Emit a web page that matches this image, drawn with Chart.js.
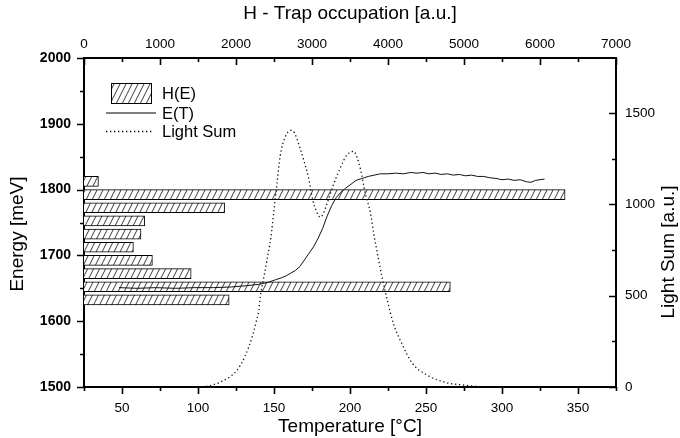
<!DOCTYPE html>
<html>
<head>
<meta charset="utf-8">
<script src="https://cdn.jsdelivr.net/npm/chart.js@4.4.0/dist/chart.umd.min.js"></script>
<style>
  html, body { margin: 0; padding: 0; background: #fff; }
</style>
</head>
<body>
<canvas id="chart" width="680" height="438"></canvas>
<script>
// H(E): trap occupation per energy level
const energyLevels = [1820, 1800, 1780, 1760, 1740, 1720, 1700, 1680, 1660, 1640];
const trapOccupation = [190, 6330, 1850, 800, 750, 650, 900, 1410, 4820, 1910];

// E(T): energy vs temperature
const etTemp = [48, 60, 72, 85, 98, 110, 122, 132, 140, 146, 151, 155, 158, 161, 164, 167, 170, 173, 176, 179,
                182, 185, 188, 191, 194, 197, 200, 204, 208, 212, 216, 220, 225, 230, 235, 240, 244, 248, 252, 256,
                260, 264, 268, 272, 276, 280, 284, 288, 292, 296, 300, 304, 308, 312, 316, 319, 322, 325, 328];
const etEnergy = [1651, 1650, 1651, 1650, 1651, 1651, 1652, 1654, 1656, 1659, 1663, 1666, 1669, 1673, 1677, 1683, 1693, 1703, 1713, 1726,
                  1741, 1760, 1776, 1788, 1796, 1802, 1807, 1814, 1817, 1820, 1822, 1824, 1824, 1825, 1824, 1826, 1825, 1826, 1824, 1825,
                  1823, 1824, 1822, 1823, 1821, 1822, 1820, 1820, 1818, 1817, 1815, 1816, 1814, 1815, 1812, 1811, 1814, 1815, 1816];

// Light sum vs temperature
const lsTemp = [100, 105, 110, 115, 121, 125, 128, 131, 133.5, 136, 138, 140, 141, 143, 145, 148, 150, 152, 154, 157.5,
                161, 163.5, 166, 169.5, 173, 175.5, 178, 180.5, 183, 185, 189.5, 194, 198, 202.5, 204.5, 207, 210, 213.5,
                215.5, 218, 221, 224.5, 228.5, 234, 241, 250.5, 263.5, 274.5, 285.5, 295, 305];
const lightSum = [0, 3, 12, 28, 56, 85, 120, 170, 221, 285, 349, 420, 495, 585, 677, 823, 969, 1115, 1261, 1371,
                  1404, 1390, 1335, 1243, 1134, 1024, 960, 929, 960, 1006, 1115, 1206, 1270, 1289, 1260, 1188, 1061, 951,
                  845, 732, 604, 476, 349, 239, 130, 66, 24, 11, 2, 0, 0];

// labelled tick values on each axis
const tempLabels = [50, 100, 150, 200, 250, 300, 350];
const occLabels = [0, 1000, 2000, 3000, 4000, 5000, 6000, 7000];
const energyLabels = [1500, 1600, 1700, 1800, 1900, 2000];
const sumLabels = [0, 500, 1000, 1500];
const sumTicks = [0, 250, 500, 750, 1000, 1250, 1500];

const FONT = '"Liberation Sans", Arial, Helvetica, sans-serif';

function makeHatch() {
    const c = document.createElement('canvas');
    c.width = 6;
    c.height = 12;
    const g = c.getContext('2d');
    g.fillStyle = '#fff';
    g.fillRect(0, 0, 6, 12);
    g.strokeStyle = '#222';
    g.lineWidth = 0.9;
    g.beginPath();
    for (const dx of [-6, 0, 6]) {
        g.moveTo(dx, 12);
        g.lineTo(dx + 6, 0);
    }
    g.stroke();
    return g.createPattern(c, 'repeat');
}

const hatch = makeHatch();

const labelIf = list => v => list.includes(Number(v)) ? String(v) : '';

function sideTitle(ctx, text, x, y) {
    ctx.save();
    ctx.fillStyle = '#000';
    ctx.font = '19px ' + FONT;
    ctx.textAlign = 'center';
    ctx.textBaseline = 'middle';
    ctx.translate(x, y);
    ctx.rotate(-Math.PI / 2);
    ctx.fillText(text, 0, 0);
    ctx.restore();
}

// inward / outward tick marks, long for labelled values, short otherwise
const tickMarks = {
    id: 'tickMarks',
    afterDraw(chart) {
        const ctx = chart.ctx;
        const a = chart.chartArea;
        ctx.save();
        ctx.strokeStyle = '#000';
        ctx.lineWidth = 1.6;
        ctx.beginPath();
        const each = (id, fn) => {
            const s = chart.scales[id];
            s.ticks.forEach(t => fn(Math.round(s.getPixelForValue(t.value)) + 0.5, t.label !== '' ? 7 : 4));
        };
        each('x', (p, len) => { ctx.moveTo(p, a.bottom); ctx.lineTo(p, a.bottom + len); });
        each('x2', (p, len) => { ctx.moveTo(p, a.top); ctx.lineTo(p, a.top + len); });
        each('y', (p, len) => { ctx.moveTo(a.left - len, p); ctx.lineTo(a.left, p); });
        each('y2', (p, len) => { ctx.moveTo(a.right - len, p); ctx.lineTo(a.right, p); });
        ctx.stroke();
        ctx.restore();

        // both vertical titles read bottom to top
        sideTitle(ctx, 'Energy [meV]', 18, 234);
        sideTitle(ctx, 'Light Sum [a.u.]', 669, 252);
    }
};

// legend box in the upper left of the plot
const boxLegend = {
    id: 'boxLegend',
    afterDraw(chart) {
        const ctx = chart.ctx;
        const ds = chart.data.datasets;
        ctx.save();
        ctx.fillStyle = hatch;
        ctx.fillRect(111, 83, 40, 20);
        ctx.strokeStyle = '#000';
        ctx.lineWidth = 1;
        ctx.strokeRect(111.5, 83.5, 40, 20);

        ctx.lineWidth = ds[0].borderWidth;
        ctx.beginPath();
        ctx.moveTo(106, 113);
        ctx.lineTo(156, 113);
        ctx.stroke();

        ctx.lineWidth = ds[1].borderWidth;
        ctx.setLineDash(ds[1].borderDash);
        ctx.beginPath();
        ctx.moveTo(106, 131.5);
        ctx.lineTo(154, 131.5);
        ctx.stroke();
        ctx.setLineDash([]);

        ctx.fillStyle = '#000';
        ctx.font = '16.5px ' + FONT;
        ctx.textBaseline = 'middle';
        ctx.fillText(ds[2].label, 162, 94);
        ctx.fillText(ds[0].label, 162, 114);
        ctx.fillText(ds[1].label, 162, 132);
        ctx.restore();
    }
};

const ctx = document.getElementById('chart').getContext('2d');
new Chart(ctx, {
    type: 'line',
    data: {
        datasets: [{
            label: 'E(T)',
            data: etTemp.map((t, i) => ({ x: t, y: etEnergy[i] })),
            xAxisID: 'x',
            yAxisID: 'y',
            borderColor: '#111',
            borderWidth: 1,
            pointRadius: 0,
            tension: 0
        }, {
            label: 'Light Sum',
            data: lsTemp.map((t, i) => ({ x: t, y: lightSum[i] })),
            xAxisID: 'x',
            yAxisID: 'y2',
            borderColor: '#111',
            borderWidth: 1.3,
            borderDash: [1.3, 2.7],
            pointRadius: 0,
            cubicInterpolationMode: 'monotone'
        }, {
            type: 'bar',
            label: 'H(E)',
            indexAxis: 'y',
            data: energyLevels.map((e, i) => ({ x: trapOccupation[i], y: e })),
            xAxisID: 'x2',
            yAxisID: 'y',
            backgroundColor: hatch,
            borderColor: '#000',
            borderWidth: 1,
            barThickness: 10
        }]
    },
    options: {
        responsive: false,
        animation: false,
        layout: { padding: 0 },
        plugins: {
            legend: { display: false },
            tooltip: { enabled: false }
        },
        scales: {
            x: {
                type: 'linear',
                axis: 'x',
                position: 'bottom',
                min: 25,
                max: 375,
                offset: false,
                grid: { display: false, offset: false, drawTicks: true, tickLength: 7 },
                border: { display: true, color: '#000', width: 2 },
                ticks: {
                    stepSize: 25,
                    autoSkip: false,
                    maxRotation: 0,
                    padding: 6,
                    color: '#000',
                    font: { family: FONT, size: 13.5 },
                    callback: labelIf(tempLabels)
                },
                title: {
                    display: true,
                    text: 'Temperature [°C]',
                    color: '#000',
                    font: { family: FONT, size: 19 },
                    padding: { top: 0, bottom: 0 }
                },
                afterFit: s => { s.height = 51; }
            },
            x2: {
                type: 'linear',
                axis: 'x',
                position: 'top',
                min: 0,
                max: 7000,
                offset: false,
                beginAtZero: true,
                grid: { display: false, offset: false, drawTicks: false },
                border: { display: true, color: '#000', width: 2 },
                ticks: {
                    stepSize: 500,
                    autoSkip: false,
                    maxRotation: 0,
                    padding: 6,
                    color: '#000',
                    font: { family: FONT, size: 13.5 },
                    callback: labelIf(occLabels)
                },
                title: {
                    display: true,
                    text: 'H - Trap occupation [a.u.]',
                    color: '#000',
                    font: { family: FONT, size: 19 },
                    padding: { top: 2, bottom: 0 }
                },
                afterFit: s => { s.height = 58; }
            },
            y: {
                type: 'linear',
                axis: 'y',
                position: 'left',
                min: 1500,
                max: 2000,
                offset: false,
                grid: { display: false, offset: false, drawTicks: true, tickLength: 7 },
                border: { display: true, color: '#000', width: 2 },
                ticks: {
                    stepSize: 50,
                    autoSkip: false,
                    padding: 6,
                    color: '#000',
                    font: { family: FONT, size: 14, weight: 'bold' },
                    callback: labelIf(energyLabels)
                },
                afterFit: s => { s.width = 84; }
            },
            y2: {
                type: 'linear',
                axis: 'y',
                position: 'right',
                min: 0,
                max: 1800,
                offset: false,
                grid: { display: false, offset: false, drawTicks: false },
                border: { display: true, color: '#000', width: 2 },
                ticks: {
                    autoSkip: false,
                    padding: 9,
                    color: '#000',
                    font: { family: FONT, size: 13.5 },
                    callback: labelIf(sumLabels)
                },
                afterBuildTicks: s => { s.ticks = sumTicks.map(v => ({ value: v })); },
                afterFit: s => { s.width = 64; }
            }
        }
    },
    plugins: [tickMarks, boxLegend]
});
</script>
</body>
</html>
